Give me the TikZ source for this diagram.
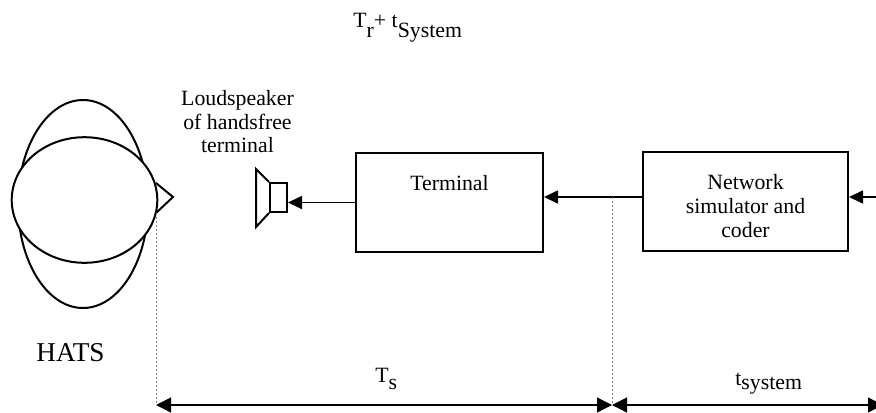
\documentclass[tikz,border=0pt]{standalone}
\usepackage{fontspec}
\setmainfont{Liberation Serif}
\usetikzlibrary{arrows.meta}
\newcommand\lowsub[2]{\raisebox{-#1}{#2}}
\tikzset{
  blk/.style={draw, line width=1pt, inner sep=0pt},
  lbl/.style={inner sep=0pt, font=\fontsize{10.9pt}{12pt}\selectfont, align=center},
  sig/.style={line width=0.85pt, -{Triangle[length=7pt,width=6.5pt]}},
  dim/.style={line width=0.6pt, {Triangle[length=7.5pt,width=7.5pt]}-{Triangle[length=7.5pt,width=7.5pt]}},
  guide/.style={gray, line width=0.4pt, dash pattern=on 1pt off 1pt},
  head/.style={draw, line width=1pt},
}
\begin{document}
\begin{tikzpicture}[x=0.5pt,y=-0.5pt]
\useasboundingbox (0,0) rectangle (876,412);
% head (HATS)
\draw[head] (83,204) ellipse [x radius=32.5pt, y radius=52pt];
\draw[head, fill=white] (84.5,200) ellipse [x radius=36.4pt, y radius=31.4pt];
\coordinate (ear) at (156,213);
\draw[head] (156,183) -- (173,197) -- (ear);
\node[inner sep=0pt, font=\fontsize{13.6pt}{15pt}\selectfont, anchor=base] (hats) at (70.5,361) {HATS};
% loudspeaker
\node[blk, minimum width=8.5pt, minimum height=14.5pt] (spk) at (278.5,197.5) {};
\draw[line width=1pt] (spk.north west) -- (256,169) -- (256,227) -- (spk.south west);
\node[lbl, font=\fontsize{10.9pt}{11.7pt}\selectfont, anchor=base] (spklbl) at (237.5,152.7) {Loudspeaker\\of handsfree\\terminal};
% terminal
\node[blk, minimum width=93.5pt, minimum height=49.5pt] (term) at (449.5,202.5) {};
\node[lbl, anchor=base] (termlbl) at (449.5,190) {Terminal};
% network simulator
\node[blk, minimum width=102.5pt, minimum height=49.5pt] (net) at (745.5,201.5) {};
\node[lbl, anchor=base] (netlbl) at (745.5,237) {Network\\simulator and\\coder};
% signal path
\coordinate (in) at (884,197);
\draw[sig] (in) -- (in -| net.east);
\draw[sig] ([yshift=2.25pt]net.west) -- ([yshift=2.25pt]net.west -| term.east);
\draw[sig] (term.west) -- (spk.east |- term.west);
% guides and dimensions
\coordinate (tap) at (612,197);
\coordinate (dL) at (156,405);
\coordinate (dM) at (612,405);
\coordinate (dR) at (883,405);
\draw[guide] (ear) -- (dL);
\draw[guide] (tap) -- (dM);
\draw[dim] (dL) -- (dM);
\draw[dim] (dM) -- (dR);
\node[lbl, anchor=base west] (ts) at (375,382) {T\lowsub{3.5pt}{s}};
\node[lbl, anchor=base west] (tsys) at (735,385) {t\lowsub{2.2pt}{system}};
\node[lbl, anchor=base west] (top) at (353,27) {T\lowsub{5.3pt}{r}+ t\lowsub{5.3pt}{System}};
\end{tikzpicture}
\end{document}
